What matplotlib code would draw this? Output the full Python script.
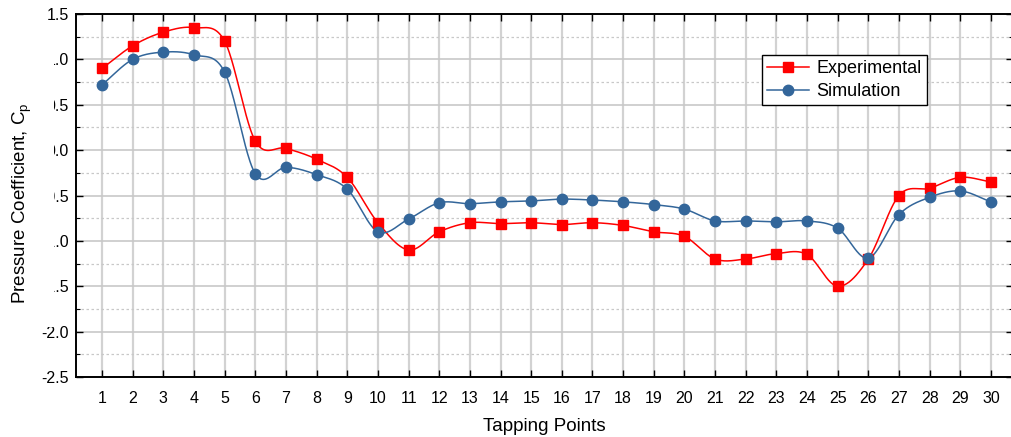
import numpy as np
import matplotlib
matplotlib.use("Agg")
import matplotlib.pyplot as plt
from matplotlib.patches import Rectangle
from matplotlib.ticker import MultipleLocator

plt.rcParams["font.family"] = ["Liberation Sans", "DejaVu Sans"]
plt.rcParams["mathtext.default"] = "regular"

# Pressure coefficient at each tapping point
taps = np.arange(1, 31)
cp_experimental = [0.90, 1.15, 1.30, 1.35, 1.20, 0.10, 0.02, -0.10, -0.30, -0.80,
                   -1.10, -0.90, -0.80, -0.81, -0.80, -0.82, -0.80, -0.83, -0.90, -0.95,
                   -1.20, -1.20, -1.14, -1.15, -1.50, -1.20, -0.50, -0.42, -0.30, -0.35]
cp_simulation = [0.72, 1.00, 1.08, 1.05, 0.86, -0.26, -0.19, -0.27, -0.43, -0.90,
                 -0.76, -0.58, -0.59, -0.57, -0.56, -0.54, -0.55, -0.57, -0.60, -0.65,
                 -0.78, -0.78, -0.79, -0.78, -0.86, -1.19, -0.71, -0.52, -0.45, -0.57]

RED = "#FF0000"
BLUE = "#33669A"


def smooth_curve(x, y, n=40):
    """Catmull-Rom curve through (x, y), n samples per segment."""
    x = np.asarray(x, float)
    y = np.asarray(y, float)
    m = np.gradient(y, x)
    xs, ys = [], []
    for i in range(len(x) - 1):
        h = x[i + 1] - x[i]
        t = np.linspace(0, 1, n, endpoint=False)
        h00 = 2 * t ** 3 - 3 * t ** 2 + 1
        h10 = t ** 3 - 2 * t ** 2 + t
        h01 = -2 * t ** 3 + 3 * t ** 2
        h11 = t ** 3 - t ** 2
        xs.append(x[i] + t * h)
        ys.append(h00 * y[i] + h10 * h * m[i] + h01 * y[i + 1] + h11 * h * m[i + 1])
    xs.append([x[-1]])
    ys.append([y[-1]])
    return np.concatenate(xs), np.concatenate(ys)


fig = plt.figure(figsize=(10.11, 4.37), dpi=100)
ax = fig.add_axes([76 / 1011, 60 / 437, 937 / 1011, 363 / 437])

sx, sy = smooth_curve(taps, cp_experimental)
ax.plot(sx, sy, color=RED, linewidth=1.1, zorder=3)
ax.plot(taps, cp_experimental, linestyle="none", marker="s", markersize=6.5,
        color=RED, zorder=4)
sx, sy = smooth_curve(taps, cp_simulation)
ax.plot(sx, sy, color=BLUE, linewidth=1.1, zorder=3)
ax.plot(taps, cp_simulation, linestyle="none", marker="o", markersize=7.5,
        color=BLUE, zorder=4)

# legend proxies (line + marker)
ax.plot([], [], color=RED, linewidth=1.1, marker="s", markersize=6.5, label="Experimental")
ax.plot([], [], color=BLUE, linewidth=1.1, marker="o", markersize=7.5, label="Simulation")

ax.set_xlim(0.15, 30.72)
ax.set_ylim(-2.5, 1.5)
ax.set_xticks(taps)
ax.yaxis.set_major_locator(MultipleLocator(0.5))
ax.yaxis.set_minor_locator(MultipleLocator(0.25))
ax.set_yticklabels([f"{v:.1f}" for v in ax.get_yticks()])

ax.grid(True, which="major", axis="x", color="#d2d2d2", linewidth=1.6, zorder=0)
ax.grid(True, which="major", axis="y", color="#c8c8c8", linewidth=1.2, zorder=0)
ax.grid(True, which="minor", axis="y", color="#c8c8c8", linewidth=0.9,
        linestyle=(0, (2, 2)), zorder=0)
ax.set_axisbelow(True)

ax.tick_params(axis="both", which="major", direction="in", length=5, width=1.0,
               top=True, right=True, labelsize=11.5)
ax.tick_params(axis="y", which="minor", direction="in", length=3, width=0.8, right=True)
ax.tick_params(axis="x", pad=10)
ax.tick_params(axis="y", pad=5)
for side in ["top", "bottom", "left"]:
    ax.spines[side].set_linewidth(1.4)
ax.spines["right"].set_visible(False)

ax.set_xlabel("Tapping Points", fontsize=13.5, labelpad=9)

# white strip behind the y-axis title
fig.patches.append(Rectangle((0, 0.2517), 53.5 / 1011, 0.634, transform=fig.transFigure,
                             facecolor="white", edgecolor="none", zorder=5))
fig.text(22 / 1011, 1 - 203 / 437, "Pressure Coefficient, C$_{p}$", rotation=90,
         ha="center", va="center", fontsize=13.5, zorder=6)

leg = ax.legend(loc="upper left", bbox_to_anchor=(0.732, 0.887), borderaxespad=0,
                fontsize=13, frameon=True, fancybox=False, edgecolor="black",
                framealpha=1, handlelength=2.3, handletextpad=0.4, borderpad=0.3,
                labelspacing=0.3)
leg.get_frame().set_linewidth(1.0)

fig.savefig("out.png", dpi=100)
